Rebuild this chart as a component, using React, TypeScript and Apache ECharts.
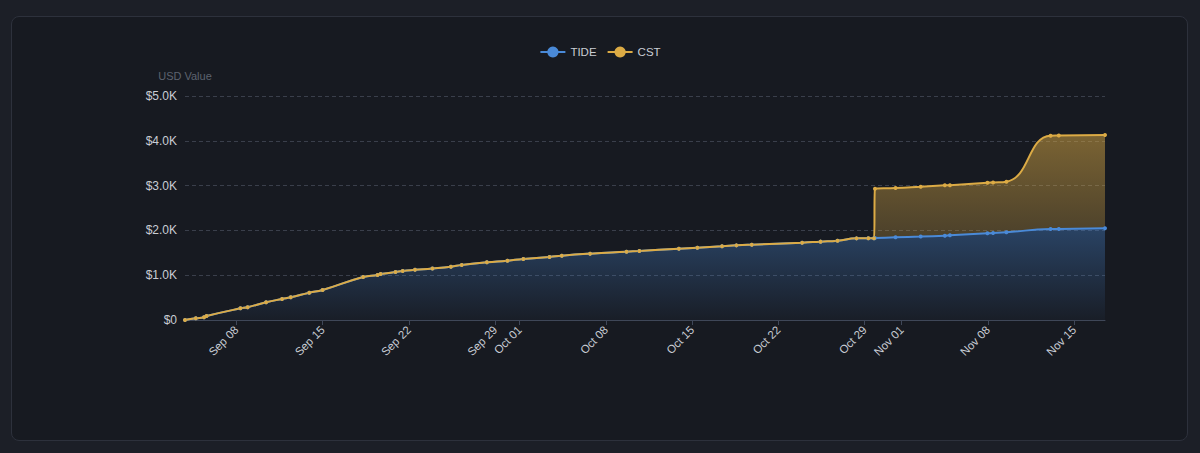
import React, { useEffect, useRef } from 'react';
import * as echarts from 'echarts';

const dates: string[] = [
  '2025-09-03 20:00', '2025-09-04 17:00', '2025-09-05 09:00', '2025-09-05 14:00',
  '2025-09-08 08:00', '2025-09-08 22:00', '2025-09-10 10:00', '2025-09-11 17:00',
  '2025-09-12 10:00', '2025-09-13 22:00', '2025-09-15 00:00', '2025-09-18 07:00',
  '2025-09-19 11:00', '2025-09-19 17:00', '2025-09-20 22:00', '2025-09-21 12:00',
  '2025-09-22 12:00', '2025-09-23 22:00', '2025-09-25 10:00', '2025-09-26 07:00',
  '2025-09-28 08:00', '2025-09-30 00:00', '2025-10-01 07:00', '2025-10-03 10:00',
  '2025-10-04 10:00', '2025-10-06 17:00', '2025-10-09 16:00', '2025-10-10 17:00',
  '2025-10-13 22:00', '2025-10-15 10:00', '2025-10-17 10:00', '2025-10-18 14:00',
  '2025-10-19 20:00', '2025-10-23 22:00', '2025-10-25 10:00', '2025-10-26 19:00',
  '2025-10-28 08:00', '2025-10-29 07:00', '2025-10-29 18:00', '2025-10-29 20:00',
  '2025-10-31 12:00', '2025-11-02 13:00', '2025-11-04 12:00', '2025-11-04 22:00',
  '2025-11-07 23:00', '2025-11-08 10:00', '2025-11-09 12:00', '2025-11-13 02:00',
  '2025-11-13 18:00', '2025-11-17 12:00',
];

const tide: number[] = [
  0, 38, 62, 90,
  260, 285, 395, 469,
  506, 610, 670, 960,
  1005, 1025, 1070, 1095,
  1120, 1150, 1190, 1228,
  1287, 1324, 1362, 1406,
  1436, 1481, 1525, 1540,
  1592, 1615, 1644, 1666,
  1682, 1726, 1749, 1770,
  1822, 1825, 1826, 1828,
  1845, 1862, 1882, 1890,
  1935, 1940, 1957, 2031,
  2033, 2046,
];

const cst: number[] = [
  0, 0, 0, 0,
  0, 0, 0, 0,
  0, 0, 0, 0,
  0, 0, 0, 0,
  0, 0, 0, 0,
  0, 0, 0, 0,
  0, 0, 0, 0,
  0, 0, 0, 0,
  0, 0, 0, 0,
  0, 0, 0, 1100,
  1101, 1114, 1124, 1120,
  1130, 1130, 1131, 2084,
  2085, 2083,
];

const seriesNames = ['TIDE', 'CST'];
const yTicks = { min: 0, max: 5000, interval: 1000 };

const FONT = '"Liberation Sans", Arial, Helvetica, sans-serif';
const BLUE = '#4a8ad8';
const GOLD = '#dcab45';

function fmtUsd(v: number): string {
  if (v === 0) return '$0';
  return '$' + (v / 1000).toFixed(1) + 'K';
}

export default function App() {
  const ref = useRef<HTMLDivElement>(null);

  useEffect(() => {
    document.body.style.margin = '0';
    document.body.style.background = '#1c1f27';
    if (!ref.current) return;
    const chart = echarts.init(ref.current, undefined, { renderer: 'svg' });
    const tidePts = dates.map((d, i) => [d, tide[i]]);
    const cstPts = dates.map((d, i) => [d, cst[i]]);
    chart.setOption({
      animation: false,
      backgroundColor: 'transparent',
      textStyle: { fontFamily: FONT },
      legend: {
        top: 41,
        left: 'center',
        itemWidth: 25,
        itemHeight: 14,
        itemGap: 10,
        textStyle: { color: '#c9cdd4', fontSize: 11.5, fontFamily: FONT },
        data: seriesNames,
      },
      grid: { left: 185, right: 95, top: 96, bottom: 133, containLabel: false },
      xAxis: {
        type: 'time',
        min: 'dataMin',
        max: 'dataMax',
        axisLine: { show: true, lineStyle: { color: '#3f4758', width: 1 } },
        axisTick: { show: true, length: 5, lineStyle: { color: '#3f4758' } },
        splitLine: { show: false },
        axisLabel: {
          rotate: 45,
          color: '#c8ccd4',
          fontSize: 11.5,
          fontFamily: FONT,
          formatter: '{MMM} {dd}',
          hideOverlap: false,
          margin: 8,
        },
      },
      yAxis: {
        type: 'value',
        min: yTicks.min,
        max: yTicks.max,
        interval: yTicks.interval,
        name: 'USD Value',
        nameGap: 15,
        nameTextStyle: { color: '#5d636f', fontSize: 11, fontFamily: FONT },
        axisLine: { show: false },
        axisTick: { show: false },
        splitLine: { lineStyle: { color: '#3a3f4b', type: [4, 3] } },
        axisLabel: {
          color: '#c9cdd4',
          fontSize: 12,
          fontFamily: FONT,
          margin: 8,
          formatter: (v: number) => fmtUsd(v),
        },
      },
      series: [
        {
          name: seriesNames[0],
          type: 'line',
          stack: 'total',
          smooth: true,
          symbol: 'circle',
          symbolSize: 4,
          itemStyle: { color: BLUE },
          lineStyle: { color: BLUE, width: 2 },
          areaStyle: {
            color: new echarts.graphic.LinearGradient(0, 0, 0, 1, [
              { offset: 0, color: 'rgba(74,138,216,0.52)' },
              { offset: 1, color: 'rgba(74,138,216,0.05)' },
            ]),
          },
          data: tidePts,
        },
        {
          name: seriesNames[1],
          type: 'line',
          stack: 'total',
          smooth: true,
          symbol: 'circle',
          symbolSize: 4,
          itemStyle: { color: GOLD },
          lineStyle: { color: GOLD, width: 2 },
          areaStyle: {
            color: new echarts.graphic.LinearGradient(0, 0, 0, 1, [
              { offset: 0, color: 'rgba(220,171,69,0.72)' },
              { offset: 1, color: 'rgba(220,171,69,0.1)' },
            ]),
          },
          data: cstPts,
        },
      ],
    });
    return () => chart.dispose();
  }, []);

  return (
    <div style={{ position: 'relative', width: 1200, height: 453, background: '#1c1f27', overflow: 'hidden' }}>
      <div
        style={{
          position: 'absolute',
          left: 11,
          top: 16,
          width: 1177,
          height: 425,
          boxSizing: 'border-box',
          background: '#171a21',
          border: '1px solid #2d313c',
          borderRadius: 8,
        }}
      />
      <div ref={ref} style={{ position: 'absolute', left: 0, top: 0, width: 1200, height: 453 }} />
    </div>
  );
}
